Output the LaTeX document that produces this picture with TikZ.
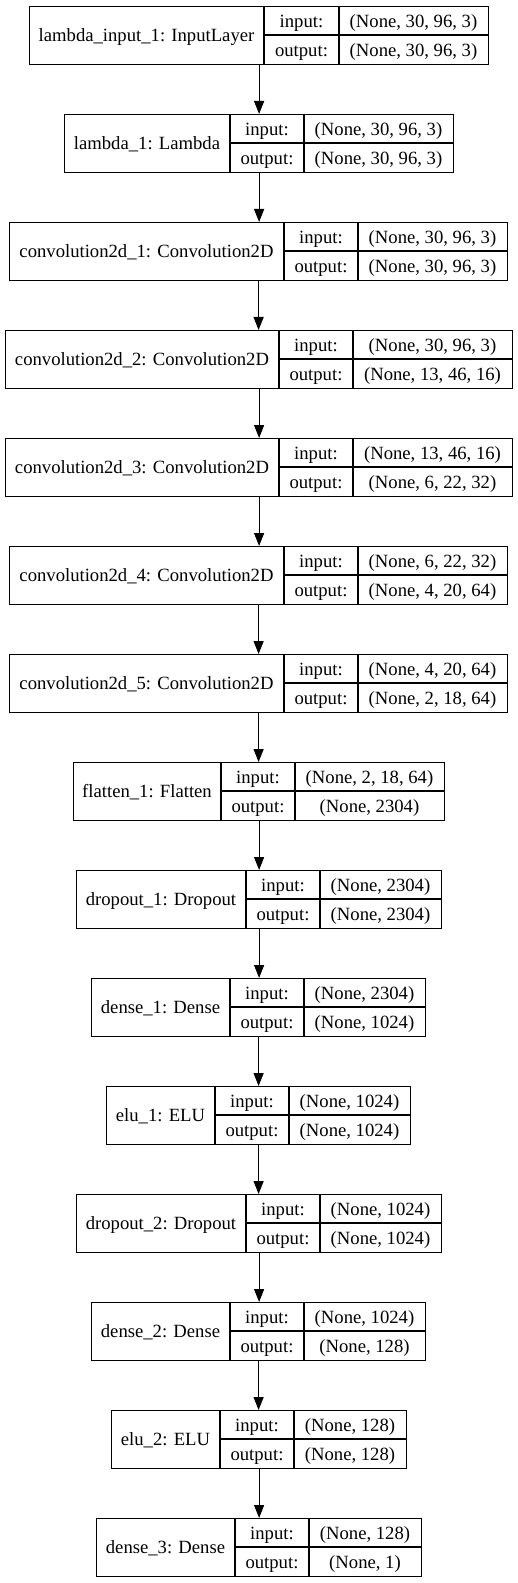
\documentclass[tikz,border=0pt]{standalone}
\usepackage{fontspec}
\setmainfont{Liberation Serif}
\usetikzlibrary{arrows.meta}
\tikzset{
  layerbox/.style={draw=black, line width=0.9pt, inner sep=0pt, anchor=north west},
  sepline/.style={draw=black, line width=0.9pt},
  lbl/.style={inner sep=0pt, anchor=base, font=\fontsize{14pt}{16pt}\selectfont},
  arr/.style={draw=black, line width=0.9pt, -{Triangle[length=9.75pt,width=7.5pt]}},
}
% name, top, left, right, divider1, divider2, label, input, output
\newcommand{\kerasrow}[9]{%
  \node[layerbox, minimum width={(#4-#3)*0.75pt}, minimum height={58*0.75pt}] (#1) at (#3,#2) {};
  \draw[sepline] (#5,#2) -- (#5,{#2+58});
  \draw[sepline] (#6,#2) -- (#6,{#2+58});
  \draw[sepline] (#5,{#2+29}) -- (#4,{#2+29});
  \node[lbl] (#1-name) at ({(#3+#5)/2},{#2+29+6.7}) {#7};
  \node[lbl] (#1-inl) at ({(#5+#6)/2},{#2+14.5+6.7}) {input:};
  \node[lbl] (#1-outl) at ({(#5+#6)/2},{#2+43.5+6.7}) {output:};
  \node[lbl] (#1-inv) at ({(#6+#4)/2},{#2+14.5+6.7}) {#8};
  \node[lbl] (#1-outv) at ({(#6+#4)/2},{#2+43.5+6.7}) {#9};
}
\begin{document}
\begin{tikzpicture}[x=0.75pt,y=-0.75pt]
\useasboundingbox[fill=white] (0,0) rectangle (517,1583);
\kerasrow{b1}{6}{29}{488}{264}{339}{lambda\_input\_1: InputLayer}{(None, 30, 96, 3)}{(None, 30, 96, 3)}
\kerasrow{b2}{114}{64}{453}{230}{304}{lambda\_1: Lambda}{(None, 30, 96, 3)}{(None, 30, 96, 3)}
\kerasrow{b3}{222}{9}{507}{284}{358}{convolution2d\_1: Convolution2D}{(None, 30, 96, 3)}{(None, 30, 96, 3)}
\kerasrow{b4}{330}{5}{512}{279}{353}{convolution2d\_2: Convolution2D}{(None, 30, 96, 3)}{(None, 13, 46, 16)}
\kerasrow{b5}{438}{5}{512}{279}{353}{convolution2d\_3: Convolution2D}{(None, 13, 46, 16)}{(None, 6, 22, 32)}
\kerasrow{b6}{546}{9}{507}{284}{358}{convolution2d\_4: Convolution2D}{(None, 6, 22, 32)}{(None, 4, 20, 64)}
\kerasrow{b7}{654}{9}{507}{284}{358}{convolution2d\_5: Convolution2D}{(None, 4, 20, 64)}{(None, 2, 18, 64)}
\kerasrow{b8}{762}{73}{444}{221}{295}{flatten\_1: Flatten}{(None, 2, 18, 64)}{(None, 2304)}
\kerasrow{b9}{870}{76}{441}{246}{320}{dropout\_1: Dropout}{(None, 2304)}{(None, 2304)}
\kerasrow{b10}{978}{91}{425}{230}{304}{dense\_1: Dense}{(None, 2304)}{(None, 1024)}
\kerasrow{b11}{1086}{106}{410}{215}{289}{elu\_1: ELU}{(None, 1024)}{(None, 1024)}
\kerasrow{b12}{1194}{76}{441}{246}{320}{dropout\_2: Dropout}{(None, 1024)}{(None, 1024)}
\kerasrow{b13}{1302}{91}{425}{230}{304}{dense\_2: Dense}{(None, 1024)}{(None, 128)}
\kerasrow{b14}{1410}{111}{406}{220}{294}{elu\_2: ELU}{(None, 128)}{(None, 128)}
\kerasrow{b15}{1518}{96}{421}{235}{309}{dense\_3: Dense}{(None, 128)}{(None, 1)}
\foreach \a/\b in {b1/b2,b2/b3,b3/b4,b4/b5,b5/b6,b6/b7,b7/b8,b8/b9,b9/b10,b10/b11,b11/b12,b12/b13,b13/b14,b14/b15}{
  \draw[arr] (\a.south) -- (\a.south |- \b.north);
}
\end{tikzpicture}
\end{document}
